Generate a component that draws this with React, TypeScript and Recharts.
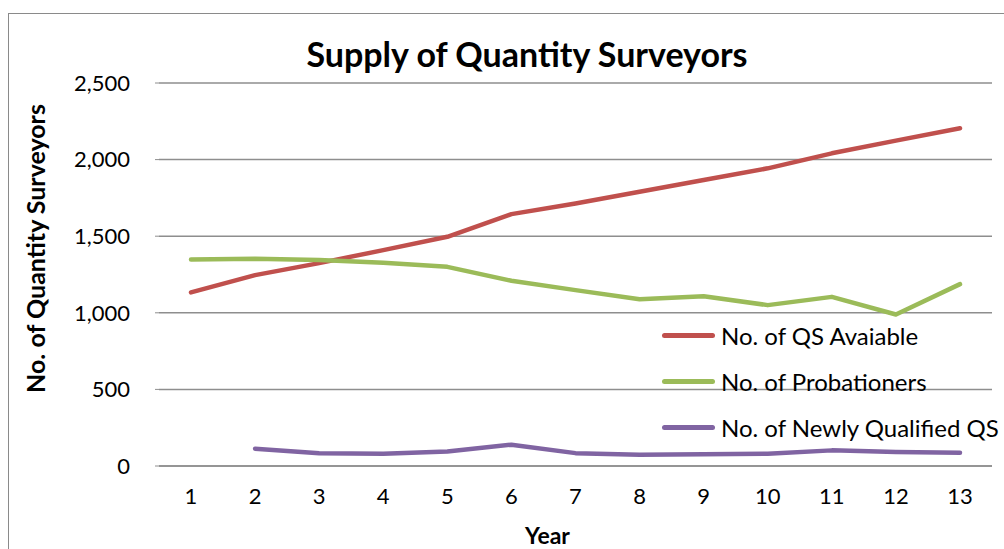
import { CartesianGrid, Line, LineChart, XAxis, YAxis, Label } from "recharts";

// Supply of QS line chart, Excel-look (gray border, hairline grid, Calibri-ish text)

const years = ["1", "2", "3", "4", "5", "6", "7", "8", "9", "10", "11", "12", "13"];
const qsAvailable = [1133, 1246, 1324, 1409, 1496, 1644, 1714, 1790, 1867, 1943, 2041, 2124, 2205];
const probationers = [1348, 1352, 1344, 1326, 1300, 1209, 1148, 1089, 1108, 1050, 1104, 989, 1187];
const newlyQualified = [null, 113, 84, 80, 95, 139, 84, 74, 76, 80, 102, 91, 87];
const yTicks = [0, 500, 1000, 1500, 2000, 2500];

const SERIES = [
  { key: "available", name: "No. of QS Avaiable", color: "#C0504D" },
  { key: "probationers", name: "No. of Probationers", color: "#9BBB59" },
  { key: "newly", name: "No. of Newly Qualified QS", color: "#8064A2" },
];

const data = years.map((y, i) => ({
  year: y,
  available: qsAvailable[i],
  probationers: probationers[i],
  newly: newlyQualified[i],
}));

const FONT = "Lato, 'Open Sans', sans-serif";

// legend drawn as an overlay so it doesn't eat into the plot area
function LegendBox() {
  return (
    <div style={{ position: "absolute", left: 662, top: 312, fontFamily: FONT, fontSize: 24, color: "#000" }}>
      {SERIES.map((s) => (
        <div key={s.key} style={{ display: "flex", alignItems: "center", height: 46 }}>
          <span
            style={{
              display: "inline-block",
              width: 53,
              height: 5,
              borderRadius: 3,
              background: s.color,
              marginRight: 6,
            }}
          />
          <span>{s.name}</span>
        </div>
      ))}
    </div>
  );
}

export default function App() {
  return (
    <div style={{ position: "absolute", left: 0, top: 0, width: 1004, height: 549, background: "#fff", overflow: "hidden" }}>
      <div
        style={{
          position: "absolute",
          left: 8,
          top: 13,
          width: 1010,
          height: 560,
          border: "1px solid #8a8a8a",
        }}
      />
      <div
        style={{
          position: "absolute",
          left: 0,
          width: 1054,
          top: 33,
          textAlign: "center",
          fontFamily: FONT,
          fontWeight: 700,
          fontSize: 34,
          color: "#000",
        }}
      >
        Supply of Quantity Surveyors
      </div>
      <div style={{ position: "absolute", left: 0, top: 0 }}>
        <LineChart width={1004} height={549} data={data} margin={{ top: 83, right: 12, bottom: 0, left: 0 }}>
          <CartesianGrid vertical={false} stroke="#8e8e8e" strokeWidth={1.5} />
          <XAxis
            dataKey="year"
            height={83}
            padding={{ left: 32, right: 32 }}
            axisLine={{ stroke: "#8e8e8e", strokeWidth: 1.5 }}
            tickLine={false}
            tickSize={0}
            tickMargin={22}
            tick={{ fill: "#000", fontSize: 22, fontFamily: FONT }}
          >
            <Label
              value="Year"
              position="insideBottom"
              offset={5}
              dx={-28}
              style={{ fill: "#000", fontSize: 23, fontWeight: 700, fontFamily: FONT }}
            />
          </XAxis>
          <YAxis
            width={159}
            domain={[0, 2500]}
            ticks={yTicks}
            axisLine={false}
            tickLine={{ stroke: "#8e8e8e" }}
            tickSize={4}
            tickMargin={25}
            tick={{ fill: "#000", fontSize: 22, fontFamily: FONT }}
            tickFormatter={(v) => Number(v).toLocaleString("en-US")}
          >
            <Label
              value="No. of Quantity Surveyors"
              angle={-90}
              position="insideLeft"
              offset={36}
              dy={-26}
              style={{ fill: "#000", fontSize: 25, fontWeight: 700, fontFamily: FONT, textAnchor: "middle" }}
            />
          </YAxis>
          {SERIES.map((s) => (
            <Line
              key={s.key}
              type="linear"
              dataKey={s.key}
              name={s.name}
              stroke={s.color}
              strokeWidth={4.5}
              strokeLinecap="round"
              strokeLinejoin="round"
              dot={false}
              activeDot={false}
              connectNulls={false}
              isAnimationActive={false}
            />
          ))}
        </LineChart>
      </div>
      <LegendBox />
    </div>
  );
}
